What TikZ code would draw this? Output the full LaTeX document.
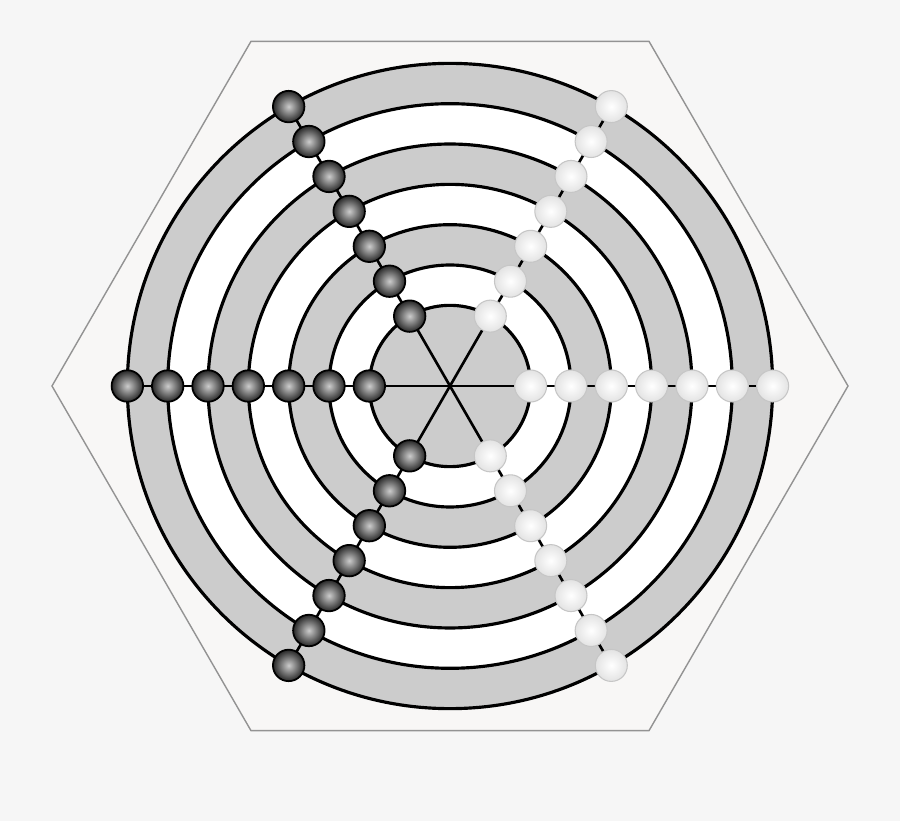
\documentclass[tikz,border=0pt]{standalone}
\usepackage{xcolor}
\usepackage{tikz}
\usetikzlibrary{positioning}

\definecolor{bgcol}{HTML}{F6F6F6}
\definecolor{hexcol}{HTML}{F8F7F6}
\definecolor{ringgray}{HTML}{CCCCCC}

\tikzset{
	ring/.style={draw=black, line width=1.8pt},
	spoke/.style={draw=black, line width=1.5pt},
	blackstone/.style={circle, draw=black, line width=1.0pt, inner sep=0pt, minimum size=0.63cm,
		inner color=gray!40!white, outer color=black!85},
	whitestone/.style={circle, draw=gray!45, line width=0.6pt, inner sep=0pt, minimum size=0.64cm,
		inner color=white, outer color=gray!22},
}

\begin{document}
\begin{tikzpicture}[x=0.02cm,y=0.02cm]
			\def\gap{40.33}
			
			% nền và khung
			\fill[bgcol] (-450,-435) rectangle (450,386);
			\useasboundingbox (-450,-435) rectangle (450,386);
			\draw[gray!85, line width=0.8pt, fill=hexcol] (0:398) -- (60:398) -- (120:398) -- (180:398) -- (240:398) -- (300:398) -- cycle;
			
			% các vòng tròn
			\foreach \k/\c in {8/ringgray,7/white,6/ringgray,5/white,4/ringgray,3/white,2/ringgray} {
				\draw[ring, fill=\c] (0,0) circle ({\k*\gap});
			}
			
			% tâm và các nan
			\coordinate (c) at (0,0);
			\foreach \a in {0,60,...,300} {
				\coordinate (e\a) at (\a:{8*\gap});
				\draw[spoke] (c) -- (e\a);
			}
			
			% quân trắng và quân đen
			\foreach \a/\s in {0/whitestone,60/whitestone,300/whitestone,120/blackstone,180/blackstone,240/blackstone} {
				\foreach \k in {2,...,8} {
					\node[\s] (s\a-\k) at (\a:{\k*\gap}) {};
				}
			}
		\end{tikzpicture}
\end{document}
